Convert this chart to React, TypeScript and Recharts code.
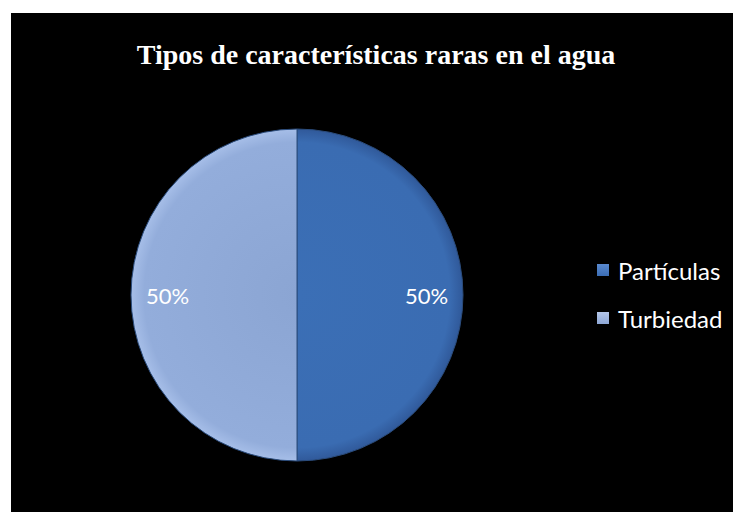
import { PieChart, Pie, Cell, Legend } from 'recharts'

const categories = ['Partículas', 'Turbiedad']
const values = [50, 50]
const percentLabels = ['50%', '50%']

const data = categories.map((name, i) => ({ name, value: values[i], pct: percentLabels[i] }))

const FILLS = ['url(#gradPart)', 'url(#gradTurb)']
const SOLID = ['#3b6db4', '#8ea8d6']
const RADIAN = Math.PI / 180
const CX = 286
const CY = 282
const R = 166

const renderLabel = (props: any) => {
  const { cx, cy, midAngle, outerRadius, index } = props
  const r = outerRadius * 0.78
  const x = cx + r * Math.cos(-midAngle * RADIAN)
  const y = cy + r * Math.sin(-midAngle * RADIAN)
  return (
    <text
      x={x}
      y={y}
      fill="#ffffff"
      textAnchor="middle"
      dominantBaseline="central"
      fontFamily="Lato, sans-serif"
      fontSize={22}
    >
      {data[index].pct}
    </text>
  )
}

const renderLegend = () => (
  <div style={{ fontFamily: 'Lato, sans-serif', fontSize: 24, color: '#ffffff' }}>
    {categories.map((c, i) => (
      <div key={c} style={{ display: 'flex', alignItems: 'center', height: 48 }}>
        <span
          style={{
            display: 'inline-block',
            width: 12,
            height: 12,
            marginRight: 9,
            background: `linear-gradient(180deg, ${i === 0 ? '#5a8ad0' : '#b4c6e8'} 0%, ${SOLID[i]} 100%)`,
          }}
        />
        {c}
      </div>
    ))}
  </div>
)

export default function App() {
  return (
    <div style={{ marginLeft: 3, marginTop: 5 }}>
      <div style={{ position: 'relative', width: 730, height: 499, background: '#000000' }}>
        <div
          style={{
            position: 'absolute',
            top: 26,
            left: 0,
            width: 730,
            textAlign: 'center',
            color: '#ffffff',
            fontFamily: '"Liberation Serif", "Times New Roman", serif',
            fontWeight: 'bold',
            fontSize: 28,
            lineHeight: '32px',
          }}
        >
          Tipos de características raras en el agua
        </div>
        <PieChart
          width={730}
          height={499}
          margin={{ top: 0, right: 0, bottom: 0, left: 0 }}
          style={{ position: 'absolute', top: 0, left: 0 }}
        >
          <defs>
            <radialGradient id="gradPart" gradientUnits="userSpaceOnUse" cx={CX} cy={CY} r={R}>
              <stop offset="0%" stopColor="#3b6fb6" />
              <stop offset="92%" stopColor="#3a6cb2" />
              <stop offset="100%" stopColor="#30599a" />
            </radialGradient>
            <radialGradient id="gradTurb" gradientUnits="userSpaceOnUse" cx={CX} cy={CY} r={R}>
              <stop offset="0%" stopColor="#8ba5d3" />
              <stop offset="92%" stopColor="#93addb" />
              <stop offset="100%" stopColor="#a6bee8" />
            </radialGradient>
          </defs>
          <Pie
            data={data}
            dataKey="value"
            nameKey="name"
            cx={CX}
            cy={CY}
            outerRadius={R}
            startAngle={90}
            endAngle={-270}
            stroke="#2b4c7c"
            strokeWidth={1}
            label={renderLabel}
            labelLine={false}
            isAnimationActive={false}
          >
            {data.map((d, i) => (
              <Cell key={d.name} fill={FILLS[i]} />
            ))}
          </Pie>
          <Legend
            layout="vertical"
            align="right"
            verticalAlign="top"
            content={renderLegend}
            wrapperStyle={{ top: 233, left: 586, width: 144 }}
          />
        </PieChart>
      </div>
    </div>
  )
}
